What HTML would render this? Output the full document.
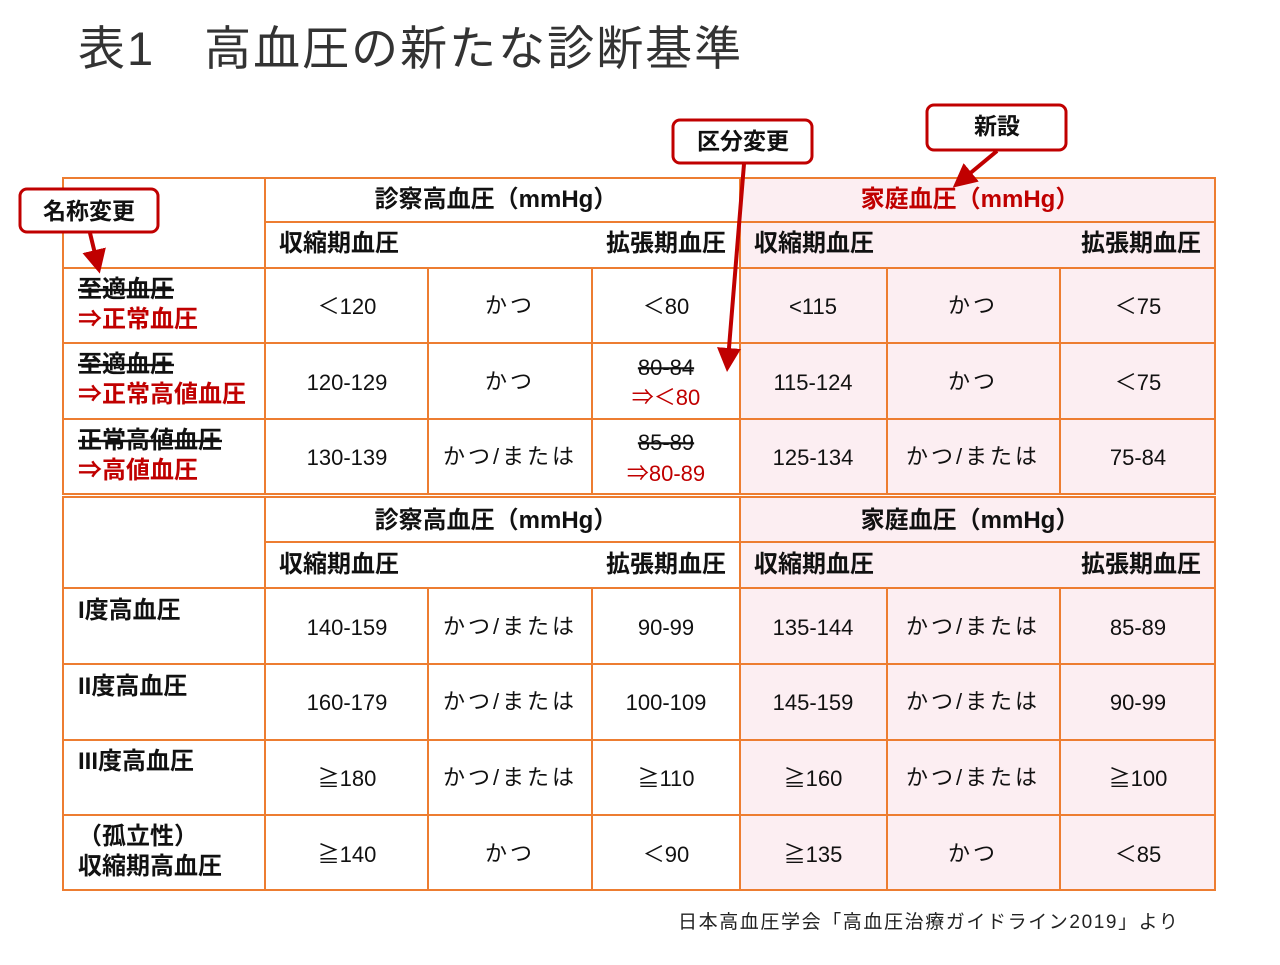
<!DOCTYPE html>
<html><head><meta charset="utf-8"><style>
body{margin:0;background:#fff}
svg text{font-family:"Liberation Sans","Noto Sans CJK JP",sans-serif}
</style></head><body>
<svg width="1280" height="960" xmlns="http://www.w3.org/2000/svg">
<defs><marker id="ah" markerWidth="6" markerHeight="6" refX="3" refY="3" orient="auto" markerUnits="strokeWidth"><path d="M0,0 L6,3 L0,6 z" fill="#C00000"/></marker></defs>
<text x="78" y="65" font-size="47" fill="#333" letter-spacing="2">表1　高血圧の新たな診断基準</text>
<rect x="740" y="178" width="475" height="316" fill="#FCEEF2"/>
<rect x="740" y="497" width="475" height="393" fill="#FCEEF2"/>
<g stroke="#ED7D31" stroke-width="2" fill="none">
<rect x="63" y="178" width="1152" height="316"/>
<line x1="265" y1="222" x2="1215" y2="222"/>
<line x1="63" y1="268" x2="1215" y2="268"/>
<line x1="63" y1="343" x2="1215" y2="343"/>
<line x1="63" y1="419" x2="1215" y2="419"/>
<line x1="265" y1="178" x2="265" y2="494"/>
<line x1="740" y1="178" x2="740" y2="494"/>
<line x1="428" y1="268" x2="428" y2="494"/><line x1="592" y1="268" x2="592" y2="494"/>
<line x1="887" y1="268" x2="887" y2="494"/><line x1="1060" y1="268" x2="1060" y2="494"/>
<rect x="63" y="497" width="1152" height="393"/>
<line x1="265" y1="542" x2="1215" y2="542"/>
<line x1="63" y1="588" x2="1215" y2="588"/>
<line x1="63" y1="664" x2="1215" y2="664"/>
<line x1="63" y1="740" x2="1215" y2="740"/>
<line x1="63" y1="815" x2="1215" y2="815"/>
<line x1="265" y1="497" x2="265" y2="890"/>
<line x1="740" y1="497" x2="740" y2="890"/>
<line x1="428" y1="588" x2="428" y2="890"/><line x1="592" y1="588" x2="592" y2="890"/>
<line x1="887" y1="588" x2="887" y2="890"/><line x1="1060" y1="588" x2="1060" y2="890"/>
</g>
<g font-size="24" font-weight="bold" fill="#111">
<text x="496" y="207" text-anchor="middle">診察高血圧（mmHg）</text>
<text x="970" y="207" text-anchor="middle" fill="#C00000">家庭血圧（mmHg）</text>
<text x="279" y="251">収縮期血圧</text><text x="726" y="251" text-anchor="end">拡張期血圧</text>
<text x="754" y="251">収縮期血圧</text><text x="1201" y="251" text-anchor="end">拡張期血圧</text>
<text x="496" y="528" text-anchor="middle">診察高血圧（mmHg）</text>
<text x="970" y="528" text-anchor="middle">家庭血圧（mmHg）</text>
<text x="279" y="572">収縮期血圧</text><text x="726" y="572" text-anchor="end">拡張期血圧</text>
<text x="754" y="572">収縮期血圧</text><text x="1201" y="572" text-anchor="end">拡張期血圧</text>
<text x="78" y="297" text-decoration="line-through">至適血圧</text>
<text x="78" y="327" fill="#C00000">⇒正常血圧</text>
<text x="78" y="372" text-decoration="line-through">至適血圧</text>
<text x="78" y="402" fill="#C00000">⇒正常高値血圧</text>
<text x="78" y="448" text-decoration="line-through">正常高値血圧</text>
<text x="78" y="478" fill="#C00000">⇒高値血圧</text>
<text x="78" y="618">I度高血圧</text>
<text x="78" y="694">II度高血圧</text>
<text x="78" y="769">III度高血圧</text>
<text x="78" y="844">（孤立性）</text>
<text x="78" y="874">収縮期高血圧</text>
</g>
<g font-size="22" fill="#111" text-anchor="middle">
<text x="347" y="314">＜120</text><text x="510" y="313" letter-spacing="3">かつ</text><text x="666" y="314">＜80</text>
<text x="813" y="314">&lt;115</text><text x="973" y="313" letter-spacing="3">かつ</text><text x="1138" y="314">＜75</text>
<text x="347" y="390">120-129</text><text x="510" y="389" letter-spacing="3">かつ</text>
<text x="666" y="375" text-decoration="line-through">80-84</text><text x="666" y="405" fill="#C00000">⇒＜80</text>
<text x="813" y="390">115-124</text><text x="973" y="389" letter-spacing="3">かつ</text><text x="1138" y="390">＜75</text>
<text x="347" y="465">130-139</text><text x="510" y="464" letter-spacing="3">かつ/または</text>
<text x="666" y="450" text-decoration="line-through">85-89</text><text x="666" y="481" fill="#C00000">⇒80-89</text>
<text x="813" y="465">125-134</text><text x="973" y="464" letter-spacing="3">かつ/または</text><text x="1138" y="465">75-84</text>
<text x="347" y="635">140-159</text><text x="510" y="634" letter-spacing="3">かつ/または</text><text x="666" y="635">90-99</text>
<text x="813" y="635">135-144</text><text x="973" y="634" letter-spacing="3">かつ/または</text><text x="1138" y="635">85-89</text>
<text x="347" y="710">160-179</text><text x="510" y="709" letter-spacing="3">かつ/または</text><text x="666" y="710">100-109</text>
<text x="813" y="710">145-159</text><text x="973" y="709" letter-spacing="3">かつ/または</text><text x="1138" y="710">90-99</text>
<text x="347" y="786">≧180</text><text x="510" y="785" letter-spacing="3">かつ/または</text><text x="666" y="786">≧110</text>
<text x="813" y="786">≧160</text><text x="973" y="785" letter-spacing="3">かつ/または</text><text x="1138" y="786">≧100</text>
<text x="347" y="862">≧140</text><text x="510" y="861" letter-spacing="3">かつ</text><text x="666" y="862">＜90</text>
<text x="813" y="862">≧135</text><text x="973" y="861" letter-spacing="3">かつ</text><text x="1138" y="862">＜85</text>
</g>
<text x="678" y="928" font-size="19" fill="#222" letter-spacing="1.6">日本高血圧学会「高血圧治療ガイドライン2019」より</text>
<g stroke="#C00000" stroke-width="3" fill="#fff">
<rect x="20" y="189" width="138" height="43" rx="7"/>
<rect x="673" y="120" width="139" height="43" rx="7"/>
<rect x="927" y="105" width="139" height="45" rx="7"/>
</g>
<g stroke="#C00000" stroke-width="4" fill="none">
<line x1="90" y1="233" x2="97" y2="262" marker-end="url(#ah)"/>
<line x1="744" y1="164" x2="728" y2="360" marker-end="url(#ah)"/>
<line x1="997" y1="151" x2="962" y2="180" marker-end="url(#ah)"/>
</g>
<g font-size="23" font-weight="bold" fill="#111" text-anchor="middle">
<text x="89" y="219">名称変更</text>
<text x="743" y="149">区分変更</text>
<text x="997" y="134">新設</text>
</g>
</svg>
</body></html>
